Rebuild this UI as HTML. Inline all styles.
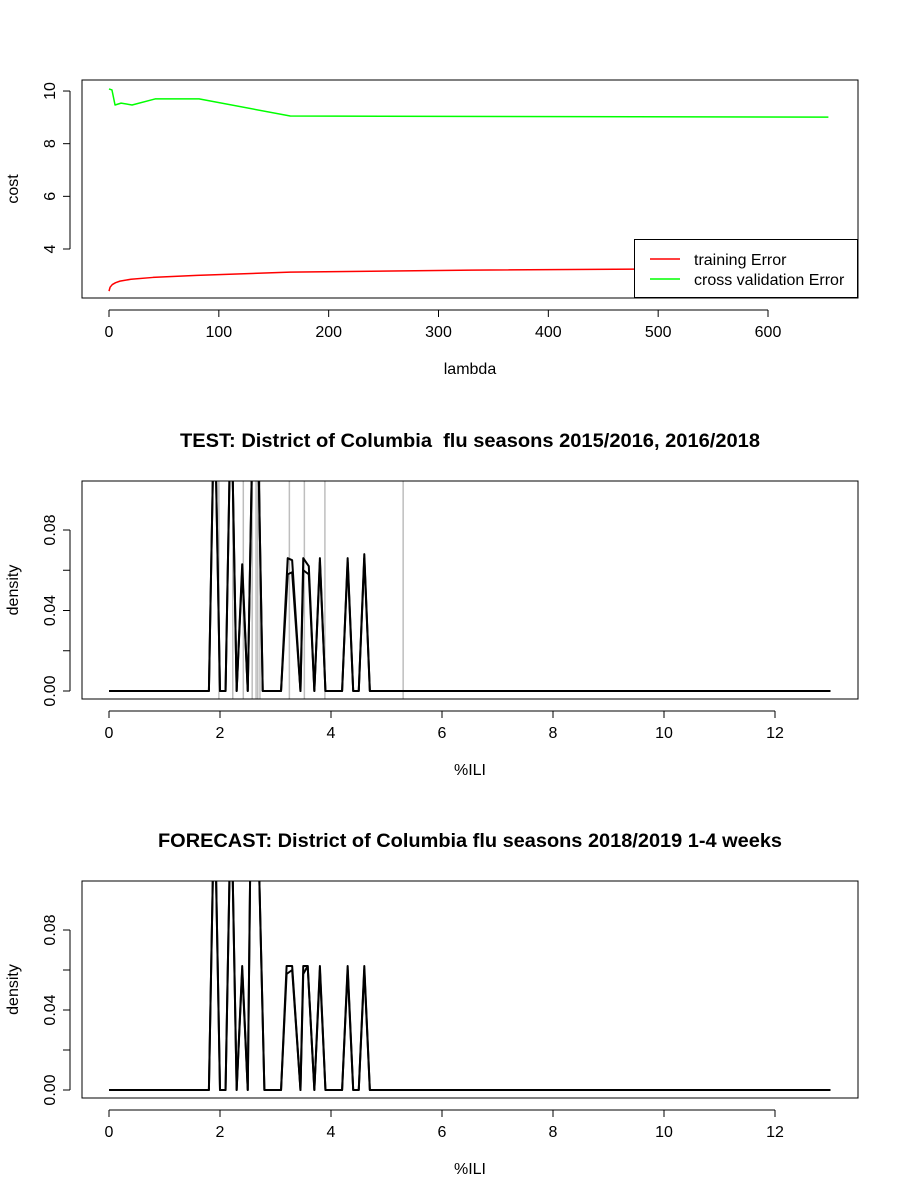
<!DOCTYPE html>
<html><head><meta charset="utf-8"><style>
body{margin:0;background:#fff}
svg{display:block;font-family:"Liberation Sans",sans-serif}
</style></head><body>
<svg id="c" width="900" height="1200" xmlns="http://www.w3.org/2000/svg"></svg>
<script>
// Panel 1: cost vs lambda
const trainLambda=[0,1,3,6,10,20,40,80,165,330,655];
const trainCost=[2.4,2.55,2.65,2.72,2.78,2.85,2.92,3.0,3.12,3.2,3.28];
const cvLambda=[0,2.7,5.5,11,21,42,82,165,655];
const cvCost=[10.08,10.04,9.47,9.54,9.47,9.7,9.7,9.05,9.01];
const p1XTicks=[0,100,200,300,400,500,600];
const p1YTicks=[4,6,8,10];
// Panel 2: test densities
const testX=[0,1.8,1.9,2.0,2.1,2.2,2.3,2.4,2.5,2.6,2.67,2.77,3.1,3.22,3.3,3.45,3.5,3.6,3.7,3.8,3.9,4.2,4.3,4.4,4.5,4.6,4.7,13];
const testY=[0,0,0.15,0,0,0.15,0,0.063,0,0.15,0.15,0,0,0.066,0.065,0,0.066,0.062,0,0.066,0,0,0.066,0,0,0.068,0,0];
const testY2=[0,0,0.15,0,0,0.15,0,0.06,0,0.15,0.15,0,0,0.058,0.059,0,0.06,0.058,0,0.064,0,0,0.064,0,0,0.066,0,0];
const testObs=[1.98,2.23,2.42,2.58,2.65,2.68,2.72,3.25,3.52,3.89,5.3];
// Panel 3: forecast densities
const fcX=[0,1.8,1.9,2.0,2.1,2.2,2.3,2.4,2.5,2.56,2.67,2.8,3.1,3.2,3.3,3.45,3.5,3.58,3.7,3.8,3.9,4.2,4.3,4.4,4.5,4.6,4.7,13];
const fcY=[0,0,0.15,0,0,0.15,0,0.062,0,0.15,0.15,0,0,0.062,0.062,0,0.062,0.062,0,0.062,0,0,0.062,0,0,0.062,0,0];
const fcY2=[0,0,0.15,0,0,0.15,0,0.06,0,0.15,0.15,0,0,0.058,0.06,0,0.058,0.062,0,0.06,0,0,0.06,0,0,0.06,0,0];
const denXTicks=[0,2,4,6,8,10,12];
const denYTicks=[0,0.02,0.04,0.06,0.08];
const denYLabels=["0.00","","0.04","","0.08"];

const NS="http://www.w3.org/2000/svg";
const svg=document.getElementById('c');
function el(tag,attrs,parent){const e=document.createElementNS(NS,tag);for(const k in attrs)e.setAttribute(k,attrs[k]);(parent||svg).appendChild(e);return e;}
function txt(s,attrs){const t=el('text',attrs);t.textContent=s;return t;}
const FS=16;

function panel(o){
  const sx=v=>o.x0px+(v-o.x0)*o.kx, sy=v=>o.y0px-(v-o.y0)*o.ky;
  const g=el('g',{});
  
  
  const cid='clip'+o.name;
  const cp=el('clipPath',{id:cid},g);el('rect',{x:o.L,y:o.T,width:o.R-o.L,height:o.B-o.T},cp);
  const inner=el('g',{'clip-path':'url(#'+cid+')'},g);
  o.draw(inner,sx,sy);
  const box=el('rect',{x:o.L,y:o.T,width:o.R-o.L,height:o.B-o.T,fill:'none',stroke:'#000','stroke-width':1},g);
  
  
  const xa=el('g',{},g);
  
  
  const xs=o.xt.map(sx);
  el('line',{x1:xs[0],x2:xs[xs.length-1],y1:o.B+12,y2:o.B+12,stroke:'#000'},xa);
  o.xt.forEach(v=>{const p=sx(v);el('line',{x1:p,x2:p,y1:o.B+12,y2:o.B+19,stroke:'#000'},xa);
    const t=el('text',{x:p,y:o.B+39,'text-anchor':'middle','font-size':FS},xa);t.textContent=v;
    });
  const ya=el('g',{},g);
  
  
  const ys=o.yt.map(sy);
  el('line',{x1:o.L-12,x2:o.L-12,y1:ys[0],y2:ys[ys.length-1],stroke:'#000'},ya);
  o.yt.forEach((v,i)=>{const p=sy(v);el('line',{x1:o.L-19,x2:o.L-12,y1:p,y2:p,stroke:'#000'},ya);
    const lab=o.yl?o.yl[i]:String(v); if(!lab)return;
    const t=el('text',{x:o.L-27,y:p,'text-anchor':'middle','font-size':FS,transform:'rotate(-90 '+(o.L-27)+' '+p+')'},ya);t.textContent=lab;
    });
  const xt=txt(o.xlab,{x:(o.L+o.R)/2,y:o.B+76,'text-anchor':'middle','font-size':FS});
  
  const cy=(o.T+o.B)/2;
  const yt=txt(o.ylab,{x:18,y:cy,'text-anchor':'middle','font-size':FS,transform:'rotate(-90 18 '+cy+')'});
  
  if(o.title){const tt=txt(o.title,{x:(o.L+o.R)/2,y:o.T-34,'text-anchor':'middle','font-size':19,'font-weight':'bold','xml:space':'preserve',style:'white-space:pre',textLength:o.tl,lengthAdjust:'spacingAndGlyphs'});
    }
}
function poly(parent,X,Y,sx,sy,color,w,name){
  const p=el('polyline',{points:X.map((x,i)=>sx(x)+','+sy(Y[i])).join(' '),fill:'none',stroke:color,'stroke-width':w,'stroke-linejoin':'round'},parent);
  
  
}

panel({name:'cost-panel',L:82,R:858,T:80,B:298,x0:0,x0px:109,kx:659/600,y0:4,y0px:249,ky:26.33,
  xt:p1XTicks,yt:p1YTicks,xlab:'lambda',ylab:'cost',
  draw:(g,sx,sy)=>{
    poly(g,trainLambda,trainCost,sx,sy,'#ff0000',1.5,'training-error-line');
    poly(g,cvLambda,cvCost,sx,sy,'#00ff00',1.5,'cv-error-line');
  }});
const lg=el('g',{});


el('rect',{x:634.5,y:239.5,width:223,height:58,fill:'#fff',stroke:'#000'},lg);
el('line',{x1:650,x2:680,y1:259,y2:259,stroke:'#ff0000','stroke-width':1.5},lg);
el('line',{x1:650,x2:680,y1:279,y2:279,stroke:'#00ff00','stroke-width':1.5},lg);
const l1=el('text',{x:694,y:265,'font-size':FS},lg);l1.textContent='training Error';

const l2=el('text',{x:694,y:285,'font-size':FS},lg);l2.textContent='cross validation Error';


const dk=(691-530)/0.08;
panel({name:'test-panel',L:82,R:858,T:481,B:699,x0:0,x0px:109,kx:55.5,y0:0,y0px:691,ky:dk,
  xt:denXTicks,yt:denYTicks,yl:denYLabels,xlab:'%ILI',ylab:'density',tl:580,
  title:'TEST: District of Columbia  flu seasons 2015/2016, 2016/2018',
  draw:(g,sx,sy)=>{
    testObs.forEach(v=>{const l=el('line',{x1:sx(v),x2:sx(v),y1:481,y2:699,stroke:'#bebebe','stroke-width':1.5},g);
      });
    poly(g,testX,testY2,sx,sy,'#000',2,'density-curve');
    poly(g,testX,testY,sx,sy,'#000',2,'density-curve');
  }});
panel({name:'forecast-panel',L:82,R:858,T:881,B:1098,x0:0,x0px:109,kx:55.5,y0:0,y0px:1090,ky:(1090-930)/0.08,
  xt:denXTicks,yt:denYTicks,yl:denYLabels,xlab:'%ILI',ylab:'density',tl:624,
  title:'FORECAST: District of Columbia flu seasons 2018/2019 1-4 weeks',
  draw:(g,sx,sy)=>{
    poly(g,fcX,fcY2,sx,sy,'#000',2,'density-curve');
    poly(g,fcX,fcY,sx,sy,'#000',2,'density-curve');
  }});
</script>
</body></html>
